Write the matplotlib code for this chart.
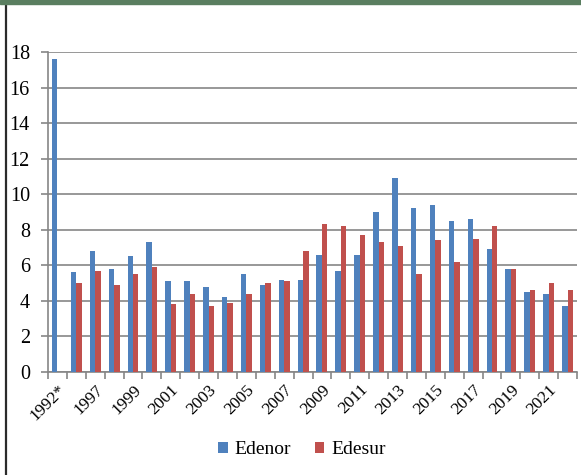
import matplotlib
matplotlib.use("Agg")
import matplotlib.pyplot as plt
from matplotlib.patches import Patch
from matplotlib.lines import Line2D
import numpy as np

years = ["1992*", "1996", "1997", "1998", "1999", "2000", "2001", "2002", "2003",
         "2004", "2005", "2006", "2007", "2008", "2009", "2010", "2011", "2012",
         "2013", "2014", "2015", "2016", "2017", "2018", "2019", "2020", "2021", "2022"]
edenor = [17.6, 5.6, 6.8, 5.8, 6.5, 7.3, 5.1, 5.1, 4.8, 4.2, 5.5, 4.9, 5.2, 5.2,
          6.6, 5.7, 6.6, 9.0, 10.9, 9.2, 9.4, 8.5, 8.6, 6.9, 5.8, 4.5, 4.4, 3.7]
edesur = [np.nan, 5.0, 5.7, 4.9, 5.5, 5.9, 3.8, 4.4, 3.7, 3.9, 4.4, 5.0, 5.1, 6.8,
          8.3, 8.2, 7.7, 7.3, 7.1, 5.5, 7.4, 6.2, 7.5, 8.2, 5.8, 4.6, 5.0, 4.6]
y_ticks = list(range(0, 20, 2))

BLUE = "#4F81BD"
RED = "#C0504D"
GRID = "#868686"

plt.rcParams["font.family"] = ["Liberation Serif", "DejaVu Serif"]

fig = plt.figure(figsize=(5.81, 4.75), dpi=100)
ax = fig.add_axes([48 / 581, (475 - 372) / 475, (577 - 48) / 581, (372 - 52) / 475])

x = np.arange(len(years))
w = 0.29
ax.bar(x - w / 2, edenor, width=w, color=BLUE, zorder=3, label="Edenor")
ax.bar(x + w / 2, edesur, width=w, color=RED, zorder=3, label="Edesur")

ax.set_xlim(-0.5, len(years) - 0.5)
ax.set_ylim(0, 18)
ax.set_yticks(y_ticks)
ax.yaxis.grid(True, color=GRID, linewidth=1.2, zorder=0)
ax.set_axisbelow(True)

for s in ["top", "right"]:
    ax.spines[s].set_visible(False)
for s in ["left", "bottom"]:
    ax.spines[s].set_color(GRID)
    ax.spines[s].set_linewidth(1.2)

ax.tick_params(axis="y", length=5, width=1.2, color=GRID, labelsize=14.5, pad=8)

# category ticks sit on the group boundaries, labels on every other group
ax.set_xticks(np.arange(-0.5, len(years) + 0.5, 1.0))
ax.set_xticklabels([])
ax.tick_params(axis="x", length=5, width=1.2, color=GRID)
ax.set_xticks(x[::2], minor=True)
ax.set_xticklabels(years[::2], minor=True, rotation=45, ha="right",
                   va="top", rotation_mode="anchor", fontsize=12.5)
ax.tick_params(axis="x", which="minor", length=0, pad=7)

handles = [Patch(facecolor=BLUE), Patch(facecolor=RED)]
fig.legend(handles, ["Edenor", "Edesur"], loc="center", bbox_to_anchor=(302 / 581, 1 - 450 / 475),
           ncol=2, frameon=False, fontsize=14, handlelength=0.5, handleheight=0.5,
           handletextpad=0.35, columnspacing=1.2)

# page decorations: green rule on top, dark rule on the left
fig.add_artist(plt.Rectangle((0, 1 - 4 / 475), 1, 4 / 475, transform=fig.transFigure,
                             color="#5A7E60", zorder=10))
fig.add_artist(Line2D([6 / 581, 6 / 581], [0, 1 - 4 / 475], transform=fig.transFigure,
                      color="#2B2B2B", linewidth=1.6))

fig.savefig("out.png", dpi=100)
